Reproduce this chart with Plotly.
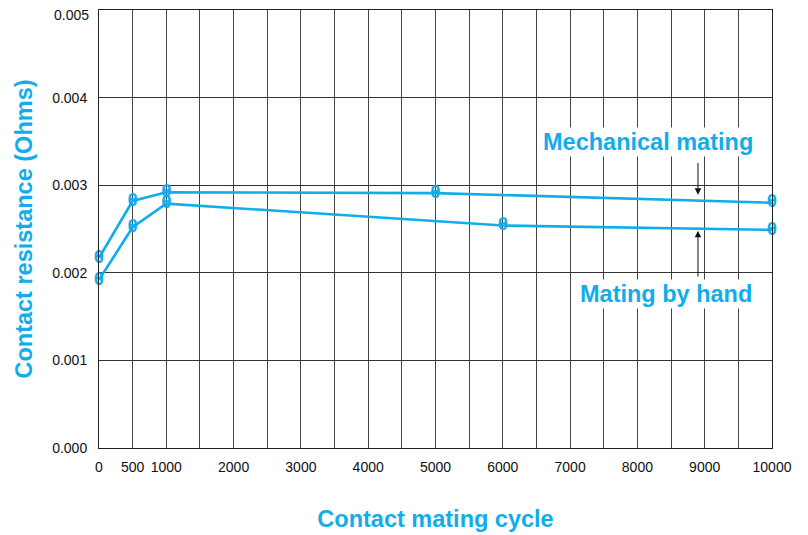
import plotly.graph_objects as go

cycles_mech = [0, 500, 1000, 5000, 10000]
res_mech = [0.00217, 0.00282, 0.00292, 0.00291, 0.00280]
cycles_hand = [0, 500, 1000, 6000, 10000]
res_hand = [0.00192, 0.00252, 0.00279, 0.00254, 0.00249]

x_tick_vals = [0, 500, 1000, 2000, 3000, 4000, 5000, 6000, 7000, 8000, 9000, 10000]
x_minor_vals = [1500, 2500, 3500, 4500, 5500, 6500, 7500, 8500, 9500]
y_tick_vals = [0, 0.001, 0.002, 0.003, 0.004, 0.005]
y_tick_text = ["0.000", "0.001", "0.002", "0.003", "0.004", "0.005"]

CYAN = "#10ADEA"
FONT = "Liberation Sans"

fig = go.Figure()
for xs, ys, name in [(cycles_mech, res_mech, "Mechanical mating"), (cycles_hand, res_hand, "Mating by hand")]:
    fig.add_trace(go.Scatter(
        x=xs, y=ys, name=name, mode="lines+text",
        line=dict(color=CYAN, width=2.6),
        text=["<b>θ</b>"] * len(xs), textposition="middle center",
        textfont=dict(family="Liberation Sans", size=19, color=CYAN),
        cliponaxis=False, showlegend=False,
    ))

grid = "#444444"
fig.update_xaxes(
    range=[0, 10000], tickvals=x_tick_vals, ticktext=[str(v) for v in x_tick_vals],
    showgrid=True, gridcolor=grid, gridwidth=1,
    minor=dict(tickvals=x_minor_vals, showgrid=True, gridcolor=grid, gridwidth=1, ticklen=0),
    showline=True, linecolor="#222222", linewidth=1, mirror=True,
    ticks="", ticklabelstandoff=6, zeroline=False, automargin=False,
    tickfont=dict(family=FONT, size=14, color="#111111"),
    title=dict(text="<b>Contact mating cycle</b>", font=dict(family=FONT, size=23.5, color=CYAN), standoff=36),
)
# top tick label (0.005) is drawn as an annotation shifted down so it is not clipped
fig.update_yaxes(
    range=[0, 0.005], tickvals=y_tick_vals[:-1], ticktext=y_tick_text[:-1],
    showgrid=True, gridcolor="#333333", gridwidth=1,
    showline=True, linecolor="#222222", linewidth=1, mirror=True,
    ticks="", ticklabelstandoff=8, zeroline=False, automargin=False,
    tickfont=dict(family=FONT, size=14, color="#111111"),
    title=dict(text="<b>Contact resistance (Ohms)</b>", font=dict(family=FONT, size=23.5, color=CYAN), standoff=12),
)
fig.add_annotation(x=0, xref="paper", y=y_tick_vals[-1], yref="y", text=y_tick_text[-1],
                   showarrow=False, xanchor="right", yanchor="middle", xshift=-8, yshift=-5,
                   font=dict(family=FONT, size=14, color="#111111"))

fig.add_annotation(x=8900, y=0.00289, ax=8900, ay=0.00327, axref="x", ayref="y",
                   showarrow=True, arrowhead=2, arrowsize=1.3, arrowwidth=1, arrowcolor="#111111", text="")
fig.add_annotation(x=8900, y=0.00248, ax=8900, ay=0.00194, axref="x", ayref="y",
                   showarrow=True, arrowhead=2, arrowsize=1.3, arrowwidth=1, arrowcolor="#111111", text="")
fig.add_annotation(x=8150, y=0.003493, text="<b>Mechanical mating</b>", showarrow=False,
                   font=dict(family=FONT, size=23.5, color=CYAN), bgcolor="white")
fig.add_annotation(x=8418, y=0.001758, text="<b>Mating by hand</b>", showarrow=False,
                   font=dict(family=FONT, size=23.5, color=CYAN), bgcolor="white")

fig.update_layout(
    width=800, height=527,
    margin=dict(l=91, r=36, t=2, b=87),
    plot_bgcolor="white", paper_bgcolor="white",
)

fig.write_html("out.html")
